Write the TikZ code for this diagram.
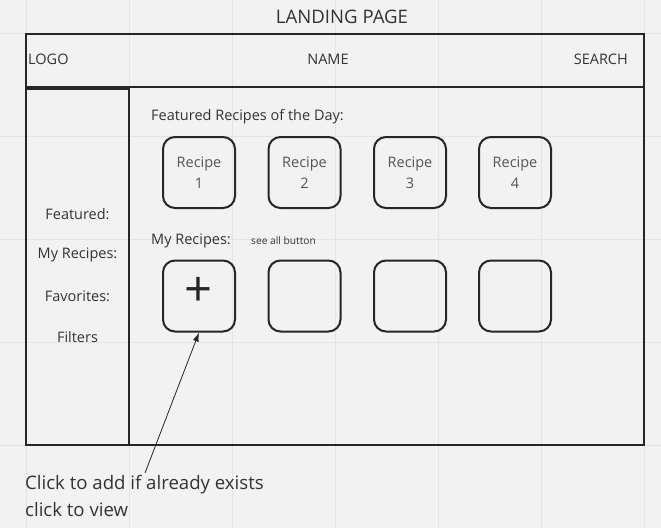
\documentclass[tikz,border=0pt]{standalone}
\usepackage{fontspec}
\setmainfont{Open Sans}
\usetikzlibrary{arrows.meta}
\definecolor{paper}{HTML}{F2F2F2}
\definecolor{gridc}{HTML}{E4E4E4}
\definecolor{ink}{HTML}{262626}
\definecolor{txt}{HTML}{333333}
\definecolor{soft}{HTML}{555555}
\tikzset{
  frame/.style={draw=ink, line width=2.6pt},
  card/.style={draw=ink, line width=2pt, rounded corners=12pt, minimum width=72pt, minimum height=71pt, inner sep=0pt, align=center, text=soft, font=\fontsize{14.5}{21}\selectfont},
  label/.style={text=txt, inner sep=0pt, font=\fontsize{14.5}{17}\selectfont},
  side/.style={label, anchor=center},
}
\begin{document}
\begin{tikzpicture}[x=1pt,y=-1pt]
  % canvas and background grid
  \fill[paper] (0,0) rectangle (661,528);
  \useasboundingbox (0,0) rectangle (661,528);
  \foreach \gx in {26,129,232,335,438,541,644}
    \draw[gridc, line width=0.8pt] (\gx,0) -- (\gx,528);
  \foreach \gy in {33,136,239,342,445}
    \draw[gridc, line width=0.8pt] (0,\gy) -- (661,\gy);

  % title
  \node[label, font=\fontsize{18.6}{22}\selectfont] (title) at (342,17) {LANDING PAGE};

  % header bar
  \draw[frame] (26,34) rectangle (644,87);
  \node[label, anchor=west] (logo) at (28,59) {LOGO};
  \node[label] (name) at (328,59) {NAME};
  \node[label, anchor=east] (search) at (628,59) {SEARCH};

  % page body and sidebar
  \draw[frame] (26,87) rectangle (644,445);
  \draw[frame] (26,89) rectangle (129,445);
  \node[side] (s1) at (77.5,214) {Featured:};
  \node[side] (s2) at (77.5,255) {My Recipes:};
  \node[side] (s3) at (77.5,296) {Favorites:};
  \node[side] (s4) at (77.5,337) {Filters};

  % featured recipes
  \node[label, anchor=west] (feat) at (151,117) {Featured Recipes of the Day:};
  \node[card] (r1) at (199,172.5) {Recipe\\1};
  \node[card] (r2) at (304.5,172.5) {Recipe\\2};
  \node[card] (r3) at (410,172.5) {Recipe\\3};
  \node[card] (r4) at (515,172.5) {Recipe\\4};

  % user recipes
  \node[label, anchor=west] (mine) at (151,241) {My Recipes:};
  \node[label, anchor=west, font=\fontsize{10.2}{12}\selectfont] (seeall) at (251,241) {see all button};
  \node[card] (m1) at (199,296) {};
  \node[text=ink, inner sep=0pt, font=\fontsize{49}{49}\selectfont] (plus) at (199,292) {+};
  \node[card] (m2) at (304.5,296) {};
  \node[card] (m3) at (410,296) {};
  \node[card] (m4) at (515,296) {};

  % note with pointer
  \node[label, anchor=north west, align=left, font=\fontsize{18.6}{27}\selectfont] (note) at (25,475)
    {Click to add if already exists\\click to view};
  \coordinate (tail) at (145,473);
  \draw[ink, line width=0.8pt, -{Latex[length=9pt,width=6pt]}] (tail) -- (m1.south);
\end{tikzpicture}
\end{document}
